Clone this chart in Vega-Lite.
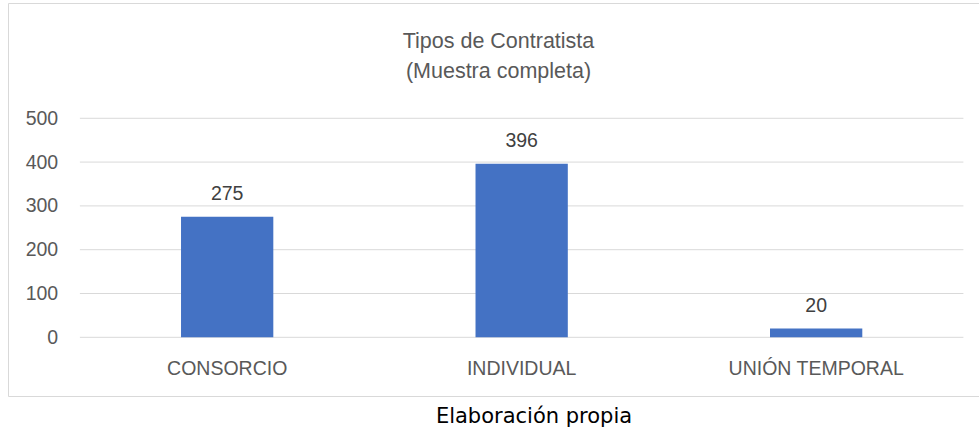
{
  "$schema": "https://vega.github.io/schema/vega-lite/v6.json",
  "width": 971,
  "height": 393,
  "autosize": "none",
  "padding": {"left": 8, "top": 3, "right": 0, "bottom": 31},
  "background": "white",
  "title": {
    "text": ["Tipos de Contratista", "(Muestra completa)"],
    "font": "Liberation Sans",
    "fontSize": 21.5,
    "fontWeight": "normal",
    "color": "#595959",
    "lineHeight": 30,
    "anchor": "middle",
    "frame": "group",
    "offset": -79,
    "dx": 5
  },
  "config": {"view": {"stroke": "#D9D9D9", "strokeWidth": 1}},
  "datasets": {
    "bars": [
      {"tipo": "CONSORCIO", "value": 275},
      {"tipo": "INDIVIDUAL", "value": 396},
      {"tipo": "UNIÓN TEMPORAL", "value": 20}
    ],
    "grid": [
      {"tick": 0}, {"tick": 100}, {"tick": 200}, {"tick": 300}, {"tick": 400}, {"tick": 500}
    ]
  },
  "layer": [
    {
      "data": {"name": "grid"},
      "mark": {"type": "rule", "color": "#D9D9D9", "strokeWidth": 1},
      "encoding": {
        "y": {
          "field": "tick",
          "type": "quantitative",
          "scale": {"domain": [-134, 763.2], "nice": false},
          "axis": {
            "title": null,
            "values": [0, 100, 200, 300, 400, 500],
            "grid": false,
            "domain": false,
            "ticks": false,
            "tickSize": 0,
            "labelFont": "Liberation Sans",
            "labelFontSize": 19.5,
            "labelColor": "#595959",
            "labelPadding": 0,
            "offset": -49.7,
            "labelBaseline": "middle",
            "labelAlign": "right"
          }
        },
        "x": {
          "datum": -0.5,
          "type": "quantitative",
          "scale": {"domain": [-0.7441, 2.553], "nice": false, "zero": false},
          "axis": null
        },
        "x2": {"datum": 2.5}
      }
    },
    {
      "data": {"name": "bars"},
      "encoding": {
        "x": {
          "field": "tipo",
          "type": "nominal",
          "sort": null,
          "scale": {"paddingInner": 0.6866, "paddingOuter": 0.4919, "align": 0.5972},
          "axis": {
            "title": "Elaboración propia",
            "titleFont": "DejaVu Sans",
            "titleFontSize": 21,
            "titleFontWeight": "normal",
            "titleColor": "#000000",
            "titleX": 525.5,
            "titleY": 47.7,
            "titleAlign": "center",
            "titleBaseline": "alphabetic",
            "domain": false,
            "ticks": false,
            "tickSize": 0,
            "grid": false,
            "labelPadding": 0,
            "labelBaseline": "alphabetic",
            "labelFont": "Liberation Sans",
            "labelFontSize": 19.5,
            "labelColor": "#595959",
            "labelAngle": 0,
            "labelLimit": 400,
            "offset": -21.7
          }
        },
        "y": {"field": "value", "type": "quantitative"}
      },
      "layer": [
        {
          "mark": {"type": "bar", "color": "#4472C4"},
          "encoding": {"y2": {"datum": 0}}
        },
        {
          "mark": {
            "type": "text",
            "baseline": "alphabetic",
            "align": "center",
            "dy": -16.5,
            "font": "Liberation Sans",
            "fontSize": 19.5,
            "color": "#404040"
          },
          "encoding": {"text": {"field": "value", "type": "quantitative"}}
        }
      ]
    }
  ],
  "resolve": {"scale": {"x": "independent"}}
}
